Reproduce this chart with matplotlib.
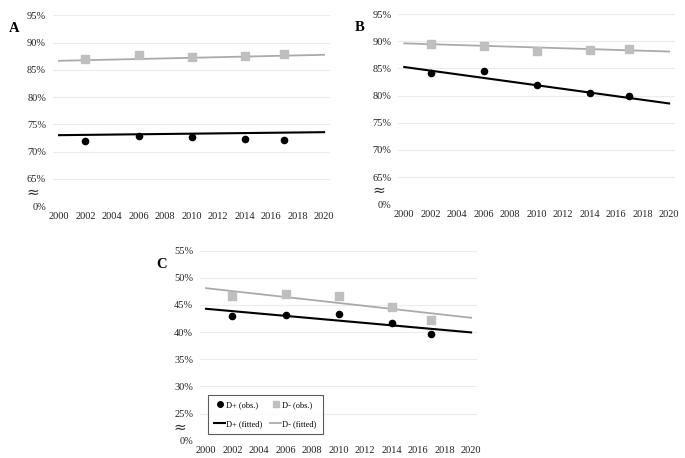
import matplotlib
matplotlib.use("Agg")
import matplotlib.pyplot as plt
from matplotlib.transforms import blended_transform_factory
from matplotlib.lines import Line2D
import numpy as np

plt.rcParams['font.family'] = ['Liberation Serif', 'DejaVu Serif']

years = [2002, 2006, 2010, 2014, 2017]
fit_years = [2000, 2020]

# Panel A
a_dpos = [72.0, 72.9, 72.75, 72.25, 72.2]
a_dneg = [87.0, 87.75, 87.3, 87.5, 87.85]
a_fit_dpos = [73.0, 73.55]
a_fit_dneg = [86.65, 87.75]
# Panel B
b_dpos = [84.2, 84.5, 81.9, 80.55, 80.0]
b_dneg = [89.45, 89.2, 88.25, 88.35, 88.65]
b_fit_dpos = [85.25, 78.55]
b_fit_dneg = [89.6, 88.1]
# Panel C
c_dpos = [42.9, 43.2, 43.3, 41.7, 39.6]
c_dneg = [46.7, 47.0, 46.6, 44.6, 42.15]
c_fit_dpos = [44.3, 39.95]
c_fit_dneg = [48.1, 42.65]

a_ticks = [0, 65, 70, 75, 80, 85, 90, 95]
c_ticks = [0, 25, 30, 35, 40, 45, 50, 55]
x_ticks = list(range(2000, 2021, 2))

BLACK = '#000000'
GRAY_M = '#bfbfbf'
GRAY_L = '#aaaaaa'

def make_scale(brk):
    def fwd(v):
        v = np.asarray(v, dtype=float)
        return np.where(v < brk, v / brk, (v - brk) / 5.0 + 1.0)
    def inv(p):
        p = np.asarray(p, dtype=float)
        return np.where(p < 1, p * brk, brk + 5.0 * (p - 1.0))
    return fwd, inv

fig = plt.figure(figsize=(6.85, 4.58), dpi=100)

def panel(rect, dpos, dneg, fdpos, fdneg, ticks, letter, legend=False):
    ax = fig.add_axes(rect)
    brk = ticks[1]
    ax.set_yscale('function', functions=make_scale(brk))
    ax.set_ylim(0, ticks[-1])
    ax.set_xlim(1999.55, 2020.45)
    ax.set_yticks(ticks)
    ax.set_yticklabels([f"{t}%" for t in ticks])
    ax.set_xticks(x_ticks)
    ax.tick_params(axis='both', length=0, labelsize=7.5, colors='#222222', pad=4)
    ax.tick_params(axis='y', pad=5)
    for s in ax.spines.values():
        s.set_visible(False)
    ax.grid(axis='y', color='#ececec', linewidth=0.8)
    ax.set_axisbelow(True)
    ax.plot(fit_years, fdneg, color=GRAY_L, lw=1.3, zorder=2, label='D- (fitted)')
    ax.plot(fit_years, fdpos, color=BLACK, lw=1.5, zorder=2, label='D+ (fitted)')
    ax.scatter(years, dneg, marker='s', s=30, color=GRAY_M, zorder=3, label='D- (obs.)')
    ax.scatter(years, dpos, marker='o', s=20, color=BLACK, zorder=3, label='D+ (obs.)')
    tr = blended_transform_factory(ax.transAxes, ax.transData)
    ax.text(-0.072, brk / 2.0, '≈', transform=tr, ha='center', va='center',
            fontsize=11, color='#333333', family=['DejaVu Sans'])
    ax.text(-0.14, 0.93, letter, transform=ax.transAxes, fontsize=10.5,
            fontweight='bold', ha='center', va='center')
    if legend:
        handles = [
            Line2D([], [], marker='o', color=BLACK, ls='none', markersize=4),
            Line2D([], [], color=BLACK, lw=1.5),
            Line2D([], [], marker='s', color=GRAY_M, ls='none', markersize=4.5),
            Line2D([], [], color=GRAY_L, lw=1.3),
        ]
        labels = ['D+ (obs.)', 'D+ (fitted)', 'D- (obs.)', 'D- (fitted)']
        leg = ax.legend(handles, labels, ncol=2, loc='lower left',
                        bbox_to_anchor=(0.02, 0.02), fontsize=6,
                        frameon=True, fancybox=False, edgecolor='#333333',
                        handlelength=1.3, handletextpad=0.15, columnspacing=0.9,
                        labelspacing=1.35, borderpad=0.75, borderaxespad=0.3)
        leg.get_frame().set_linewidth(0.8)
    return ax

panel([0.0774, 0.5502, 0.4044, 0.4164], a_dpos, a_dneg, a_fit_dpos, a_fit_dneg, a_ticks, 'A')
panel([0.5815, 0.5539, 0.4040, 0.4155], b_dpos, b_dneg, b_fit_dpos, b_fit_dneg, a_ticks, 'B')
panel([0.2920, 0.0378, 0.4044, 0.4148], c_dpos, c_dneg, c_fit_dpos, c_fit_dneg, c_ticks, 'C', legend=True)

fig.savefig('out.png', dpi=100)
